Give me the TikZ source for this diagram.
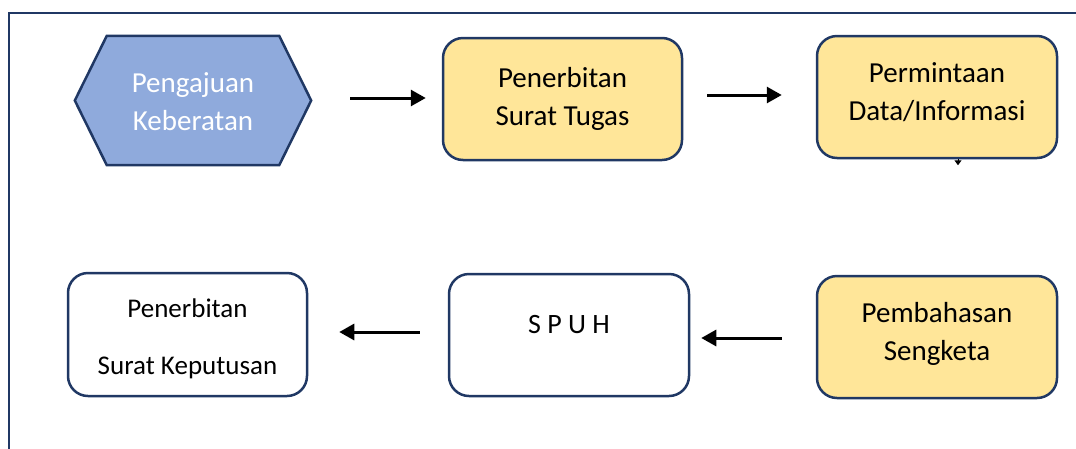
\documentclass[tikz,border=0pt]{standalone}
\usepackage{fontspec}
\setmainfont{Carlito}
\usetikzlibrary{arrows.meta}
\definecolor{navy}{HTML}{203864}
\definecolor{hexblue}{HTML}{8FAADC}
\definecolor{boxyellow}{HTML}{FFE699}
\newcommand\liftby[2]{\raisebox{#1}[\height][\depth]{#2}}
\tikzset{
  box/.style={draw=navy, line width=2.5pt, rounded corners=20pt, minimum width=239pt, minimum height=122pt, inner sep=0pt, align=center, font=\fontsize{29}{38}\selectfont},
  yellowbox/.style={box, fill=boxyellow},
  whitebox/.style={box, fill=white},
  arr/.style={line width=3pt, -{Triangle[length=15pt,width=16pt]}},
}
\begin{document}
\begin{tikzpicture}[x=1pt,y=-1pt]
\useasboundingbox (0,0) rectangle (1076,448);
% frame
\draw[navy, line width=2.5pt] (9,470) -- (9,13) -- (1090,13);
% hexagon
\node[minimum width=236pt, minimum height=129pt, inner sep=0pt] (hex) at (193,100.5) {};
\draw[navy, line width=2.5pt, fill=hexblue, line join=miter]
  (hex.west) -- ([xshift=32pt]hex.north west) -- ([xshift=-32pt]hex.north east)
  -- (hex.east) -- ([xshift=-32pt]hex.south east) -- ([xshift=32pt]hex.south west) -- cycle;
\node[align=center, text=white, font=\fontsize{29}{38}\selectfont] (hextext) at (hex.center) {\liftby{-1.5pt}{Pengajuan}\\\liftby{-1.5pt}{Keberatan}};
% boxes
\node[yellowbox] (pst) at (562.5,99) {Penerbitan\\Surat Tugas};
\node[yellowbox, minimum width=240pt] (pdi) at (937,97) {\liftby{5pt}{Permintaan}\\\liftby{5pt}{Data/Informasi}};
\node[yellowbox, minimum width=240pt] (pemb) at (937,337) {\liftby{3pt}{Pembahasan}\\\liftby{3pt}{Sengketa}};
\node[whitebox, minimum width=240pt, font=\fontsize{28}{34}\selectfont, text height=18pt, text depth=22pt] (spuh) at (569,335) {S P U H};
\node[whitebox, minimum height=123pt, font=\fontsize{27}{29}\selectfont] (psk) at (187.5,334.5) {\liftby{-4pt}{Penerbitan}\\[28pt]\liftby{-4pt}{Surat Keputusan}};
% connectors
\draw[arr, shorten <=39pt, shorten >=16pt] ([yshift=1pt]hex.east |- pst.west) -- ([yshift=1pt]pst.west);
\draw[arr, shorten <=24pt, shorten >=34pt] ([yshift=4pt]pst.east) -- ([yshift=4pt]pst.east -| pdi.west);
\draw[arr, shorten <=34pt, shorten >=11pt] ([yshift=-1pt]pemb.west) -- ([yshift=-1pt]pemb.west -| spuh.east);
\draw[arr, shorten <=28pt, shorten >=31pt] ([yshift=3pt]spuh.west) -- ([yshift=3pt]spuh.west -| psk.east);
\coordinate (stub) at ([xshift=21pt,yshift=-6pt]pdi.south);
\draw[line width=1pt, -{Triangle[length=5pt,width=7pt]}] ([xshift=21pt]pdi.south) -- (stub);
\end{tikzpicture}
\end{document}
